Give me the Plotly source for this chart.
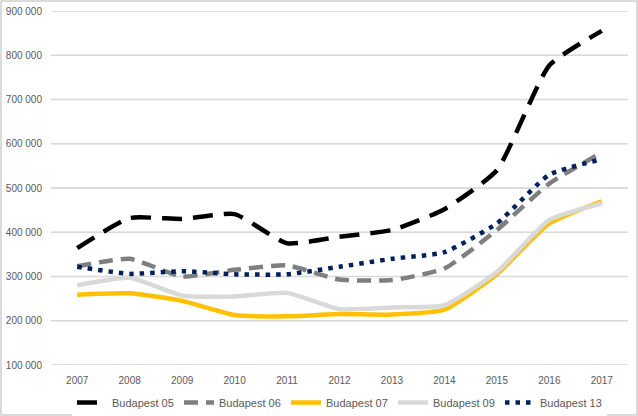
import plotly.graph_objects as go

years = ["2007", "2008", "2009", "2010", "2011", "2012", "2013", "2014", "2015", "2016", "2017"]
bp05 = [364000, 432000, 430000, 441000, 375000, 390000, 405000, 452000, 540000, 777000, 855000]
bp06 = [323000, 340000, 300000, 315000, 325000, 293000, 292000, 318000, 405000, 510000, 580000]
bp07 = [259000, 262000, 245000, 213000, 210000, 215000, 214000, 225000, 305000, 420000, 470000]
bp09 = [280000, 297000, 257000, 255000, 263000, 226000, 230000, 235000, 310000, 428000, 465000]
bp13 = [322000, 306000, 312000, 305000, 305000, 322000, 340000, 355000, 420000, 530000, 565000]
ytick_vals = [100000, 200000, 300000, 400000, 500000, 600000, 700000, 800000, 900000]
ytick_text = ["100 000", "200 000", "300 000", "400 000", "500 000",
              "600 000", "700 000", "800 000", "900 000"]

series = [
    ("Budapest 05", bp05, "#000000", "20px,11px"),
    ("Budapest 06", bp06, "#7f7f7f", "14px,8px"),
    ("Budapest 07", bp07, "#ffc000", "solid"),
    ("Budapest 09", bp09, "#d9d9d9", "solid"),
    ("Budapest 13", bp13, "#002060", "4.5px,6px"),
]

fig = go.Figure()
for name, vals, color, dash in series:
    fig.add_trace(go.Scatter(
        x=years, y=vals, name=name, mode="lines",
        line=dict(color=color, width=4.5, dash=dash, shape="spline", smoothing=0.5),
    ))

W, H = 638, 416
ml, mr, mt, mb = 51, 10, 11, 51
pw, ph = W - ml - mr, H - mt - mb

grid_shapes = [dict(type="line", xref="paper", yref="y", x0=0, x1=1, y0=v, y1=v,
                    line=dict(color="#d4d4d4", width=1.5), layer="below")
               for v in ytick_vals]
border = dict(type="rect", xref="paper", yref="paper",
              x0=-(ml - 1) / pw, x1=1 + (mr - 1) / pw,
              y0=-(mb - 1) / ph, y1=1 + (mt - 1) / ph,
              line=dict(color="#d0d0d0", width=1.5), fillcolor="rgba(0,0,0,0)", layer="above")

fig.update_layout(
    width=W, height=H,
    margin=dict(l=ml, r=mr, t=mt, b=mb, autoexpand=False),
    paper_bgcolor="white", plot_bgcolor="white",
    font=dict(family="Liberation Sans, Arial, sans-serif", size=10, color="#595959"),
    xaxis=dict(type="category", range=[-0.5, 10.5], showgrid=False, showline=False,
               ticks="", ticklabelstandoff=8, tickfont=dict(size=10, color="#595959")),
    yaxis=dict(range=[100000, 900000], tickmode="array", tickvals=ytick_vals,
               ticktext=ytick_text, showgrid=True, gridcolor="#d9d9d9", gridwidth=1,
               zeroline=False, showline=False, ticks="", ticklabelstandoff=8,
               tickfont=dict(size=10, color="#595959")),
    legend=dict(orientation="h", x=0.5, xanchor="center", y=-0.065, yanchor="top",
                font=dict(size=11, color="#595959"), entrywidth=62,
                entrywidthmode="pixels", tracegroupgap=0),
    shapes=grid_shapes + [border],
)

fig.write_html("out.html", config={"displayModeBar": False},
               post_script="document.body.style.margin='0';document.body.style.padding='0';")
